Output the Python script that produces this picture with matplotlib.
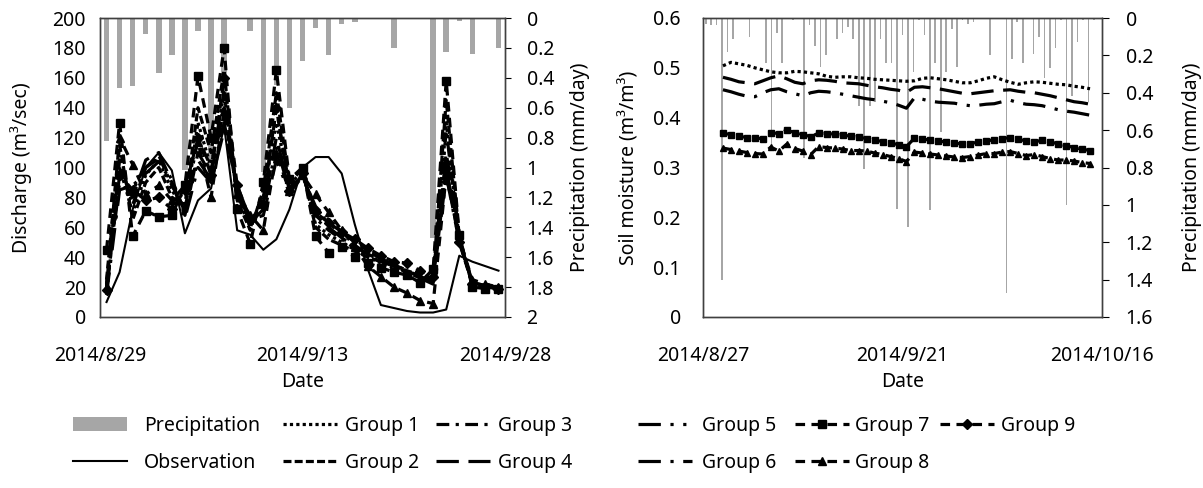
import numpy as np
import matplotlib
matplotlib.use('Agg')
import matplotlib.pyplot as plt
from matplotlib.patches import Patch
from matplotlib.lines import Line2D
from matplotlib.ticker import FuncFormatter

plt.rcParams['font.family'] = ['Noto Sans', 'DejaVu Sans']
plt.rcParams['font.size'] = 14

# ---------------- left panel: discharge ----------------
q_dates = ['2014/8/29', '2014/9/13', '2014/9/28']
q_precip = [0.82, 0.47, 0.455, 0.11, 0.37, 0.25, 1.02, 0.09, 1.10, 0.55, 0.01,
            0.09, 1.03, 0.45, 0.60, 0.29, 0.07, 0.25, 0.04, 0.03, 0, 0,
            0.20, 0, 0, 1.47, 0.23, 0.02, 0.24, 0, 0.20]
q_obs = [10, 30, 72, 100, 110, 98, 56, 78, 86, 128, 58, 55, 45, 52, 72, 100,
         107, 107, 96, 62, 32, 8, 6, 4, 3, 3, 5, 41, 37, 34, 31]
q_g1 = [15, 100, 70, 95, 105, 85, 70, 130, 100, 150, 80, 60, 80, 130, 88, 98,
        62, 55, 50, 45, 40, 36, 33, 30, 27, 24, 130, 52, 22, 20, 19]
q_g2 = [25, 115, 65, 90, 100, 80, 75, 140, 110, 165, 78, 58, 85, 150, 90, 99,
        60, 52, 48, 44, 40, 37, 34, 31, 28, 26, 145, 54, 21, 20, 19]
q_g3 = [22, 105, 75, 100, 108, 88, 72, 120, 100, 150, 82, 62, 78, 140, 86, 97,
        66, 58, 52, 46, 41, 37, 34, 30, 27, 23, 125, 52, 23, 21, 20]
q_g4 = [20, 95, 80, 105, 110, 90, 68, 110, 95, 140, 85, 63, 72, 120, 85, 96,
        68, 60, 53, 47, 42, 38, 35, 31, 27, 23, 110, 51, 23, 21, 20]
q_g5 = [18, 90, 85, 100, 106, 92, 70, 105, 92, 130, 86, 64, 70, 115, 84, 95,
        72, 63, 55, 48, 42, 38, 34, 30, 26, 22, 100, 50, 24, 22, 20]
q_g6 = [15, 85, 88, 96, 104, 90, 66, 100, 90, 125, 88, 65, 68, 105, 83, 94,
        74, 65, 57, 50, 44, 39, 35, 31, 27, 23, 95, 50, 24, 22, 20]
q_g7 = [45, 130, 54, 71, 67, 68, 88, 161, 120, 180, 72, 49, 90, 165, 92, 100,
        54, 43, 47, 40, 36, 33, 30, 28, 23, 32, 158, 55, 20, 19, 19]
q_g8 = [20, 120, 102, 82, 88, 78, 88, 117, 80, 138, 82, 68, 58, 110, 84, 95,
        82, 70, 58, 47, 34, 27, 20, 16, 11, 9, 95, 52, 25, 22, 20]
q_g9 = [18, 95, 85, 78, 80, 72, 85, 120, 95, 160, 88, 65, 75, 140, 84, 96,
        70, 63, 57, 52, 46, 41, 37, 36, 31, 27, 100, 50, 22, 20, 19]

# ---------------- right panel: soil moisture ----------------
s_dates = ['2014/8/27', '2014/9/21', '2014/10/16']
s_span = 50          # days between first and last axis label
s_first = 2          # first simulated day (8/29)
s_precip = [0.03, 0.04, 0.04, 1.40, 0.18, 0.11, 0, 0, 0.10, 0, 0, 0.24, 0.69,
            0.08, 0.24, 0, 0.01, 0, 0.75, 0.04, 0.15, 0.26, 0.20, 0, 0.11,
            0.08, 0.05, 0.11, 0.47, 0.81, 0.47, 0.45, 0.11, 0.24, 0.24, 1.02,
            0.09, 1.12, 0.29, 0.01, 0.09, 1.03, 0.24, 0.61, 0.29, 0.06, 0.26,
            0.01, 0.03, 0.02, 0, 0, 0.20, 0, 0, 1.47, 0.22, 0.02, 0.24, 0,
            0.19, 0.10, 0.32, 0.27, 0.16, 0.01, 1.00, 0.42, 0.13, 0.01, 0.45,
            0.01, 0]
s_g1 = [0.504, 0.511, 0.508, 0.505, 0.500, 0.496, 0.492, 0.490, 0.490, 0.493,
        0.492, 0.490, 0.488, 0.483, 0.481, 0.482, 0.482, 0.480, 0.479, 0.477,
        0.476, 0.475, 0.474, 0.473, 0.474, 0.479, 0.480, 0.478, 0.476, 0.473,
        0.470, 0.470, 0.474, 0.479, 0.482, 0.476, 0.471, 0.467, 0.470, 0.472,
        0.471, 0.469, 0.467, 0.466, 0.463, 0.461, 0.458]
s_g4 = [0.481, 0.477, 0.472, 0.470, 0.468, 0.474, 0.480, 0.484, 0.478, 0.471,
        0.468, 0.474, 0.476, 0.475, 0.473, 0.470, 0.469, 0.468, 0.465, 0.462,
        0.460, 0.457, 0.455, 0.451, 0.461, 0.462, 0.460, 0.458, 0.455, 0.452,
        0.449, 0.448, 0.450, 0.452, 0.454, 0.455, 0.456, 0.453, 0.451, 0.450,
        0.447, 0.444, 0.440, 0.436, 0.432, 0.430, 0.427]
s_g6 = [0.456, 0.452, 0.447, 0.443, 0.442, 0.450, 0.456, 0.458, 0.452, 0.448,
        0.444, 0.450, 0.453, 0.452, 0.450, 0.447, 0.444, 0.441, 0.438, 0.436,
        0.433, 0.430, 0.425, 0.419, 0.440, 0.437, 0.433, 0.431, 0.430, 0.429,
        0.426, 0.424, 0.425, 0.427, 0.428, 0.432, 0.435, 0.430, 0.427, 0.426,
        0.424, 0.420, 0.416, 0.413, 0.411, 0.408, 0.405]
s_g7 = [0.369, 0.366, 0.363, 0.360, 0.359, 0.358, 0.370, 0.368, 0.375, 0.370,
        0.366, 0.362, 0.369, 0.368, 0.367, 0.365, 0.363, 0.361, 0.358, 0.355,
        0.352, 0.349, 0.346, 0.342, 0.359, 0.357, 0.355, 0.353, 0.351, 0.349,
        0.347, 0.348, 0.351, 0.353, 0.356, 0.358, 0.360, 0.357, 0.353, 0.351,
        0.355, 0.352, 0.347, 0.344, 0.340, 0.337, 0.334]
s_g8 = [0.339, 0.336, 0.333, 0.330, 0.328, 0.327, 0.341, 0.333, 0.347, 0.338,
        0.333, 0.326, 0.342, 0.340, 0.339, 0.337, 0.334, 0.334, 0.333, 0.329,
        0.326, 0.322, 0.318, 0.312, 0.331, 0.329, 0.327, 0.325, 0.323, 0.321,
        0.320, 0.322, 0.325, 0.328, 0.328, 0.331, 0.332, 0.328, 0.324, 0.326,
        0.322, 0.318, 0.315, 0.315, 0.313, 0.310, 0.308]

# line styles per group
GRAY = '#A6A6A6'
LW = 2.3
FS = 14
styles = {
    'Observation': dict(ls='-', lw=1.5),
    'Group 1': dict(ls=(0, (1, 1))),
    'Group 2': dict(ls=(0, (2.5, 1))),
    'Group 3': dict(ls=(0, (4, 2, 1, 2))),
    'Group 4': dict(ls=(0, (7, 3))),
    'Group 5': dict(ls=(0, (7, 3, 1, 3, 1, 3, 1, 3))),
    'Group 6': dict(ls=(0, (7, 3, 1, 3))),
    'Group 7': dict(ls=(0, (3, 2)), marker='s'),
    'Group 8': dict(ls=(0, (3, 2)), marker='^'),
    'Group 9': dict(ls=(0, (3, 2)), marker='D'),
}


def style(name, ms):
    st = dict(color='black', lw=LW, ms=ms)
    st.update(styles[name])
    if st.get('marker') == 'D':
        st['ms'] = ms * 0.8
    return st


fmt = FuncFormatter(lambda v, p: f'{v:g}')
W, H = 1203, 488


def rect(x0, x1, y0, y1):
    return [x0 / W, 1 - y1 / H, (x1 - x0) / W, (y1 - y0) / H]


def frame(ax):
    for s in ax.spines.values():
        s.set_color('#404040')
        s.set_linewidth(1.0)


fig = plt.figure(figsize=(12.03, 4.88), dpi=100)

# ---- left: precipitation bars (secondary, behind) ----
L_RECT = rect(100, 505, 18, 317)
axb = fig.add_axes(L_RECT)
nq = len(q_precip)
axb.bar(np.arange(nq) + 0.5, q_precip, width=0.42, color=GRAY)
axb.set_xlim(0, nq)
axb.set_ylim(2, 0)
axb.set_xticks([])
axb.yaxis.tick_right()
axb.yaxis.set_label_position('right')
axb.set_yticks(np.arange(0, 2.01, 0.2))
axb.yaxis.set_major_formatter(fmt)
axb.tick_params(axis='y', direction='out', length=4.5, pad=11, labelsize=FS)
axb.set_ylabel('Precipitation (mm/day)', fontsize=FS)
axb.yaxis.set_label_coords(1.16, 0.5)
frame(axb)

# ---- left: discharge lines ----
ax = fig.add_axes(L_RECT)
ax.patch.set_visible(False)
xq = np.arange(nq) + 0.5
ax.plot(xq, q_obs, **style('Observation', 6))
for name, vals in [('Group 1', q_g1), ('Group 2', q_g2), ('Group 3', q_g3),
                   ('Group 4', q_g4), ('Group 5', q_g5), ('Group 6', q_g6),
                   ('Group 7', q_g7), ('Group 8', q_g8), ('Group 9', q_g9)]:
    ax.plot(xq, vals, **style(name, 6))
ax.set_xlim(0, nq)
ax.set_ylim(0, 200)
ax.set_yticks(np.arange(0, 201, 20))
ax.set_xticks([0, nq / 2, nq])
ax.set_xticklabels(q_dates)
ax.tick_params(axis='y', length=0, pad=10, labelsize=FS)
ax.tick_params(axis='x', length=0, pad=21, labelsize=FS)
ax.set_ylabel('Discharge (m³/sec)', fontsize=FS)
ax.yaxis.set_label_coords(-0.168, 0.5)
ax.set_xlabel('Date', fontsize=FS)
ax.xaxis.set_label_coords(0.5, -0.185)
frame(ax)

# ---- right: precipitation bars ----
R_RECT = rect(703, 1102, 18, 317)
axb2 = fig.add_axes(R_RECT)
ns = len(s_precip)
axb2.bar(np.arange(ns) + 0.5, s_precip, width=0.3, color=GRAY)
axb2.set_xlim(0, ns)
axb2.set_ylim(1.6, 0)
axb2.set_xticks([])
axb2.yaxis.tick_right()
axb2.yaxis.set_label_position('right')
axb2.set_yticks(np.arange(0, 1.61, 0.2))
axb2.yaxis.set_major_formatter(fmt)
axb2.tick_params(axis='y', direction='out', length=5, pad=12, labelsize=FS)
axb2.set_ylabel('Precipitation (mm/day)', fontsize=FS)
axb2.yaxis.set_label_coords(1.2, 0.5)
frame(axb2)

# ---- right: soil moisture lines ----
ax2 = fig.add_axes(R_RECT)
ax2.patch.set_visible(False)
xs = s_first + np.arange(len(s_g1)) + 0.5
for name, vals in [('Group 1', s_g1), ('Group 4', s_g4), ('Group 6', s_g6),
                   ('Group 7', s_g7), ('Group 8', s_g8)]:
    ax2.plot(xs, vals, **style(name, 4.5))
ax2.set_xlim(0, s_span)
ax2.set_ylim(0, 0.6)
ax2.set_yticks(np.arange(0, 0.61, 0.1))
ax2.yaxis.set_major_formatter(fmt)
ax2.set_xticks([0, s_span / 2, s_span])
ax2.set_xticklabels(s_dates)
ax2.tick_params(axis='y', length=0, pad=16, labelsize=FS)
ax2.tick_params(axis='x', length=0, pad=21, labelsize=FS)
ax2.set_ylabel('Soil moisture (m³/m³)', fontsize=FS)
ax2.yaxis.set_label_coords(-0.158, 0.5)
ax2.set_xlabel('Date', fontsize=FS)
ax2.xaxis.set_label_coords(0.5, -0.185)
frame(ax2)

# ---- legend (one block per column) ----
def handle(name):
    return Line2D([], [], **style(name, 6))


columns = [
    ([Patch(facecolor=GRAY, edgecolor='none'), handle('Observation')],
     ['Precipitation', 'Observation'], 73, 0.85),
    ([handle('Group 1'), handle('Group 2')], ['Group 1', 'Group 2'], 283, 0.4),
    ([handle('Group 3'), handle('Group 4')], ['Group 3', 'Group 4'], 436, 0.4),
    ([handle('Group 5'), handle('Group 6')], ['Group 5', 'Group 6'], 638, 0.5),
    ([handle('Group 7'), handle('Group 8')], ['Group 7', 'Group 8'], 795, 0.3),
    ([handle('Group 9')], ['Group 9'], 940, 0.35),
]
for hs, labels, x0, pad in columns:
    fig.legend(hs, labels, loc='upper left',
               bbox_to_anchor=(x0 / W, 1 - 416 / H),
               frameon=False, fontsize=FS, handlelength=2.8,
               handletextpad=pad, labelspacing=0.85, borderpad=0,
               borderaxespad=0, numpoints=1)

fig.savefig('out.png', dpi=100)
